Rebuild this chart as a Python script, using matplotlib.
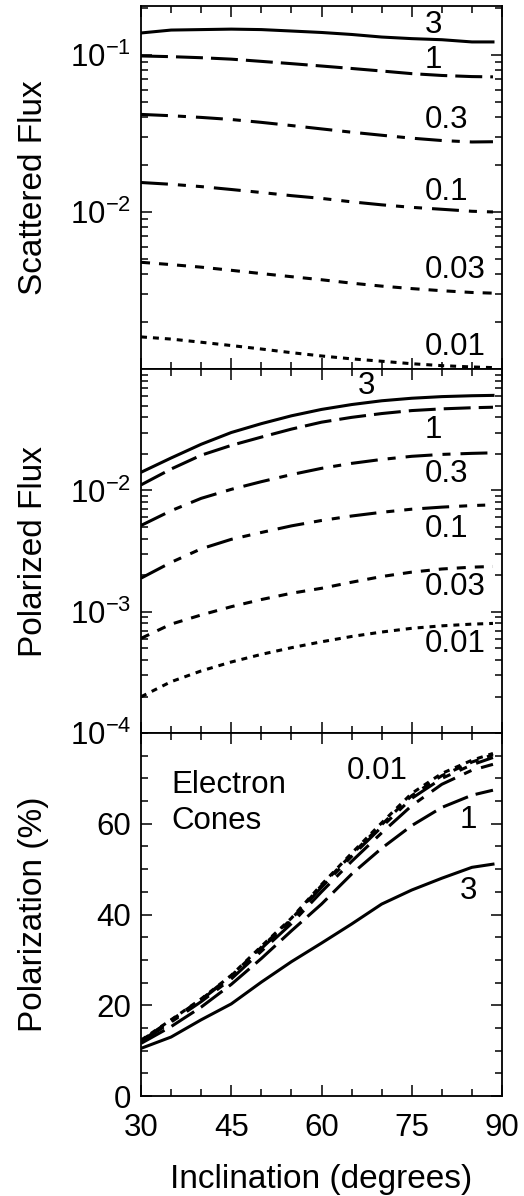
import matplotlib.pyplot as plt
import numpy as np
from matplotlib.ticker import LogLocator, FixedLocator, FixedFormatter, MultipleLocator, NullFormatter

plt.rcParams['font.family'] = ['Liberation Sans', 'DejaVu Sans']
plt.rcParams['mathtext.fontset'] = 'custom'
plt.rcParams['mathtext.rm'] = 'Liberation Sans'
plt.rcParams['mathtext.it'] = 'Liberation Sans:italic'
plt.rcParams['mathtext.bf'] = 'Liberation Sans:bold'
plt.rcParams['lines.scale_dashes'] = False

# inclination grid (degrees)
inclination = [30, 35, 40, 45, 50, 55, 60, 65, 70, 75, 80, 85, 88.5]
cone_labels = ['3', '1', '0.3', '0.1', '0.03', '0.01']

# scattered flux, one list per cone optical depth
scat_3 = [0.138, 0.144, 0.145, 0.146, 0.145, 0.142, 0.139, 0.135, 0.130, 0.127, 0.125, 0.121, 0.121]
scat_1 = [0.0985, 0.0975, 0.096, 0.094, 0.091, 0.088, 0.085, 0.082, 0.079, 0.076, 0.074, 0.0728, 0.0725]
scat_03 = [0.0418, 0.0410, 0.0400, 0.0388, 0.0372, 0.0355, 0.0338, 0.0322, 0.0308, 0.0295, 0.0285, 0.0279, 0.0280]
scat_01 = [0.0154, 0.0150, 0.0145, 0.0139, 0.0133, 0.0127, 0.0122, 0.0116, 0.0111, 0.0107, 0.0104, 0.0101, 0.0100]
scat_003 = [0.00478, 0.00462, 0.00445, 0.00425, 0.00405, 0.00387, 0.00370, 0.00352, 0.00337, 0.00325, 0.00315, 0.00307, 0.00304]
scat_001 = [0.00160, 0.00155, 0.00148, 0.00141, 0.00134, 0.00127, 0.00121, 0.00116, 0.00112, 0.00108, 0.00105, 0.00103, 0.00102]

# polarized flux
pol_3 = [0.0141, 0.0185, 0.0240, 0.0300, 0.0355, 0.0412, 0.0465, 0.0510, 0.0548, 0.0575, 0.0593, 0.0603, 0.0607]
pol_1 = [0.0111, 0.0150, 0.0195, 0.0235, 0.0275, 0.0320, 0.0365, 0.0400, 0.0430, 0.0455, 0.0470, 0.0480, 0.0485]
pol_03 = [0.00514, 0.0068, 0.0086, 0.0102, 0.0118, 0.0135, 0.0152, 0.0167, 0.0180, 0.0191, 0.0198, 0.0202, 0.0204]
pol_01 = [0.00189, 0.00255, 0.00330, 0.00395, 0.00450, 0.00510, 0.00565, 0.00615, 0.00660, 0.00700, 0.00728, 0.00750, 0.00760]
pol_003 = [0.000603, 0.00079, 0.00094, 0.00110, 0.00126, 0.00142, 0.00156, 0.00175, 0.00195, 0.00212, 0.00225, 0.00233, 0.00236]
pol_001 = [0.000199, 0.000265, 0.000325, 0.000385, 0.000445, 0.000505, 0.000565, 0.000625, 0.000680, 0.000730, 0.000765, 0.000790, 0.000801]

# polarization percentage
perc_3 = [10.5, 13.0, 16.8, 20.3, 25.1, 29.6, 33.7, 37.9, 42.3, 45.4, 48.0, 50.4, 51.1]
perc_1 = [11.6, 15.3, 19.6, 24.6, 30.3, 36.4, 42.3, 48.9, 54.6, 59.6, 63.6, 66.3, 67.4]
perc_03 = [11.9, 16.3, 20.8, 25.8, 31.9, 38.0, 45.0, 51.7, 58.0, 64.0, 68.7, 71.8, 73.1]
perc_01 = [12.1, 16.6, 21.2, 26.3, 32.5, 38.7, 46.0, 52.8, 59.3, 65.6, 70.0, 73.0, 74.6]
perc_003 = [12.2, 16.7, 21.3, 26.5, 32.8, 39.0, 46.4, 53.2, 59.8, 66.2, 70.6, 73.6, 75.2]
perc_001 = [12.3, 16.8, 21.4, 26.6, 33.0, 39.2, 46.6, 53.5, 60.2, 66.7, 71.1, 74.0, 75.5]

scattered = [scat_3, scat_1, scat_03, scat_01, scat_003, scat_001]
polarized = [pol_3, pol_1, pol_03, pol_01, pol_003, pol_001]
percent = [perc_3, perc_1, perc_03, perc_01, perc_003, perc_001]

# line style per cone depth (dash lengths in points)
styles = [
    '-',
    (0, (19.4, 5.8)),
    (0, (19.4, 7.2, 5.8, 7.2)),
    (0, (19.4, 7.2, 5.8, 7.2, 5.8, 7.2)),
    (0, (6.5, 6.5)),
    (0, (4.3, 4.3)),
]

FS = 22.5
LW = 2.2

fig = plt.figure(figsize=(5.24, 11.96), dpi=100)
left, width = 0.2691, 0.6889
ax1 = fig.add_axes([left, 0.6915, width, 0.3035])
ax2 = fig.add_axes([left, 0.3871, width, 0.3043], sharex=ax1)
ax3 = fig.add_axes([left, 0.0836, width, 0.3035], sharex=ax1)

for ys, ls in zip(scattered, styles):
    ax1.plot(inclination, ys, color='black', lw=LW, linestyle=ls)
for ys, ls in zip(polarized, styles):
    ax2.plot(inclination, ys, color='black', lw=LW, linestyle=ls)
for ys, ls in zip(percent, styles):
    ax3.plot(inclination, ys, color='black', lw=LW, linestyle=ls)

ax1.set_yscale('log')
ax1.set_ylim(1e-3, 0.205)
ax1.yaxis.set_major_locator(FixedLocator([1e-2, 1e-1]))
ax1.yaxis.set_major_formatter(FixedFormatter(['$10^{-2}$', '$10^{-1}$']))

ax2.set_yscale('log')
ax2.set_ylim(1e-4, 1e-1)
ax2.yaxis.set_major_locator(FixedLocator([1e-4, 1e-3, 1e-2]))
ax2.yaxis.set_major_formatter(FixedFormatter(['$10^{-4}$', '$10^{-3}$', '$10^{-2}$']))

for ax in (ax1, ax2):
    ax.yaxis.set_minor_locator(LogLocator(base=10, subs=np.arange(2, 10), numticks=20))
    ax.yaxis.set_minor_formatter(NullFormatter())

ax3.set_ylim(0, 80)
ax3.set_yticks([0, 20, 40, 60])
ax3.yaxis.set_minor_locator(MultipleLocator(5))

ax3.set_xlim(30, 90)
ax3.set_xticks([30, 45, 60, 75, 90])
ax3.xaxis.set_minor_locator(MultipleLocator(5))

for ax in (ax1, ax2, ax3):
    ax.tick_params(which='both', direction='in', top=True, right=True, width=1.1)
    ax.tick_params(which='major', length=8)
    ax.tick_params(which='minor', length=5)
    ax.tick_params(axis='y', labelsize=FS, pad=7)
    ax.tick_params(axis='x', labelsize=FS, pad=12)
    for sp in ax.spines.values():
        sp.set_linewidth(1.3)
    ax.yaxis.set_label_coords(-0.255, 0.5)

for ax in (ax1, ax2):
    ax.tick_params(axis='x', labelbottom=False)

ax1.set_ylabel('Scattered Flux', fontsize=24)
ax2.set_ylabel('Polarized Flux', fontsize=24)
ax3.set_ylabel('Polarization (%)', fontsize=24)
ax3.set_xlabel('Inclination (degrees)', fontsize=24, labelpad=15)

# curve labels
top_pos = [0.155, 0.0922, 0.0386, 0.01337, 0.00425, 0.00139]
for lab, y in zip(cone_labels, top_pos):
    ax1.text(77.2, y, lab, fontsize=FS, ha='left', va='center')

mid_pos = [(66.1, 0.0725), (77.2, 0.0313), (77.2, 0.01373), (77.2, 0.00482),
           (77.2, 0.00159), (77.2, 0.000541)]
for lab, (x, y) in zip(cone_labels, mid_pos):
    ax2.text(x, y, lab, fontsize=FS, ha='left', va='center')

ax3.text(64.2, 71.6, '0.01', fontsize=FS, ha='left', va='center')
ax3.text(83.0, 60.9, '1', fontsize=FS, ha='left', va='center')
ax3.text(83.0, 45.1, '3', fontsize=FS, ha='left', va='center')
ax3.text(35.1, 68.5, 'Electron', fontsize=FS, ha='left', va='center')
ax3.text(35.1, 60.7, 'Cones', fontsize=FS, ha='left', va='center')

fig.savefig('out.png', dpi=100)
